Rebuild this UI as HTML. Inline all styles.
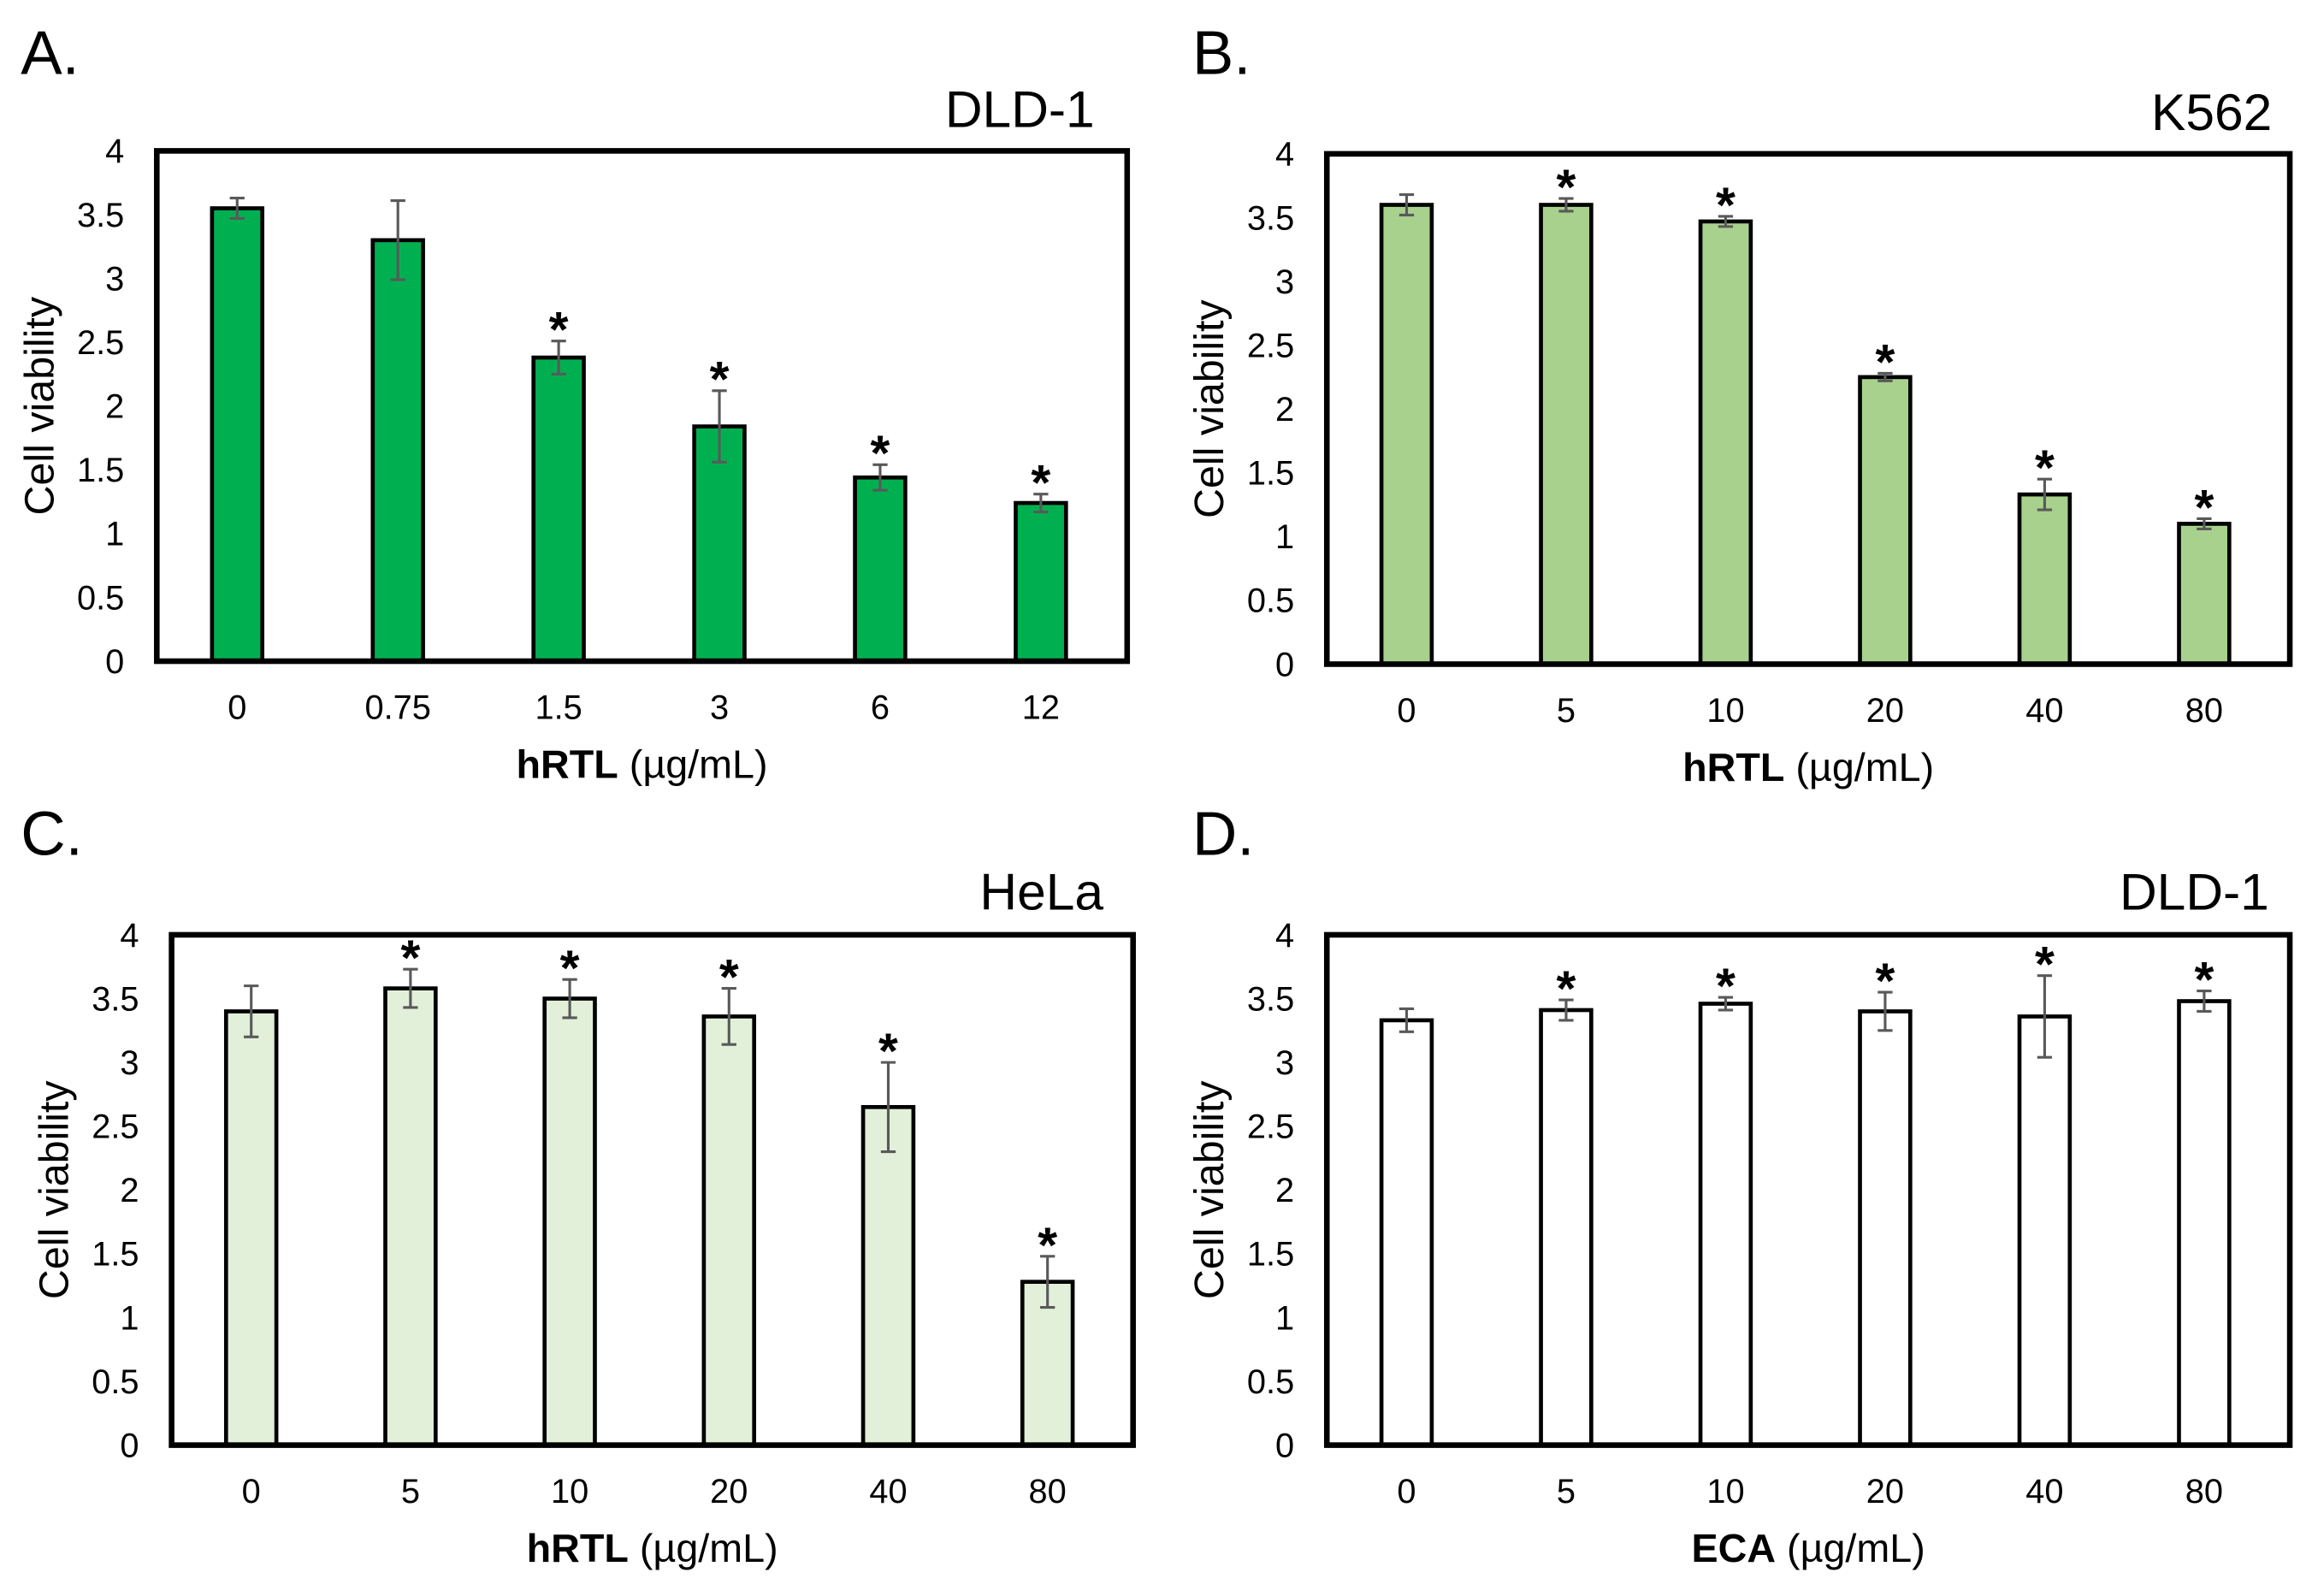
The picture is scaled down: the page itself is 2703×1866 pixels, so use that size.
<!DOCTYPE html>
<html><head><meta charset="utf-8"><style>
html,body{margin:0;padding:0;background:#fff}
svg{display:block}
text{font-family:"Liberation Sans",Arial,sans-serif;fill:#000}
.narrow{font-family:"Liberation Sans Narrow","Liberation Sans",Arial,sans-serif}
</style></head><body>
<svg id="fig" width="2703" height="1866" viewBox="0 0 1563 1079" xmlns="http://www.w3.org/2000/svg"></svg>
<script>
const yTicks = [0,0.5,1,1.5,2,2.5,3,3.5,4];
const yTickLabels = ["0","0.5","1","1.5","2","2.5","3","3.5","4"];
const catsA = ["0","0.75","1.5","3","6","12"];
const valsA = [3.55,3.3,2.38,1.84,1.44,1.24];
const errA = [0.08,0.31,0.13,0.28,0.1,0.07];
const starA = [0,0,1,1,1,1];
const catsB = ["0","5","10","20","40","80"];
const valsB = [3.6,3.6,3.47,2.25,1.33,1.1];
const errB = [0.08,0.05,0.04,0.03,0.12,0.04];
const starB = [0,1,1,1,1,1];
const catsC = ["0","5","10","20","40","80"];
const valsC = [3.4,3.58,3.5,3.36,2.65,1.28];
const errC = [0.2,0.15,0.15,0.22,0.35,0.2];
const starC = [0,1,1,1,1,1];
const catsD = ["0","5","10","20","40","80"];
const valsD = [3.33,3.41,3.46,3.4,3.36,3.48];
const errD = [0.09,0.08,0.05,0.15,0.32,0.08];
const starD = [0,1,1,1,1,1];

const NS="http://www.w3.org/2000/svg";
const svg=document.getElementById('fig');
function mk(tag,attrs,parent,txt){const e=document.createElementNS(NS,tag);for(const k in attrs)e.setAttribute(k,attrs[k]);if(txt!==undefined)e.textContent=txt;(parent||svg).appendChild(e);return e;}

function panel(p){
  const g=mk('g',{});
  
  
  const y=v=>p.bottom-(v/4)*(p.bottom-p.top);
  const step=(p.right-p.left-4)/p.cats.length;
  const x=i=>p.left+step*(i+0.5);
  const lt=mk('text',{x:p.letterX,y:p.letterY,'font-size':42,class:'narrow'},g,p.id+'.');
  
  
  const tt=mk('text',{x:p.titleX,y:p.titleY,'font-size':35,'text-anchor':'end',class:'narrow'},g,p.title);
  
  
  yTicks.forEach((v,i)=>{
    const t=mk('text',{x:p.left-22,y:y(v)+8,'font-size':23,'text-anchor':'end',class:'narrow'},g,yTickLabels[i]);
    
    
  });
  const yl=mk('text',{x:0,y:0,'font-size':28,'text-anchor':'middle',transform:`translate(${p.left-70},${(p.top+p.bottom)/2}) rotate(-90)`},g,'Cell viability');
  
  
  p.vals.forEach((v,i)=>{
    const b=mk('rect',{x:x(i)-17,y:y(v),width:34,height:p.bottom-y(v),fill:p.color,stroke:'#000','stroke-width':2.7},g);
    
    
    const e=p.errs[i];
    const eg=mk('g',{stroke:'#595959','stroke-width':1.8,fill:'none'},g);
    
    
    mk('line',{x1:x(i),x2:x(i),y1:y(v+e),y2:y(v-e)},eg);
    mk('line',{x1:x(i)-5,x2:x(i)+5,y1:y(v+e),y2:y(v+e)},eg);
    mk('line',{x1:x(i)-5,x2:x(i)+5,y1:y(v-e),y2:y(v-e)},eg);
    if(p.stars[i]){
      const s=mk('text',{x:x(i),y:y(v+e)+4,'font-size':34,'font-weight':'bold','text-anchor':'middle'},g,'*');
      
      
    }
    const xt=mk('text',{x:x(i),y:p.bottom+39,'font-size':23,'text-anchor':'middle',class:'narrow'},g,p.cats[i]);
    
    
  });
  const box=mk('rect',{x:p.left,y:p.top,width:p.right-p.left,height:p.bottom-p.top,fill:'none',stroke:'#000','stroke-width':3.8},g);
  
  
  const xl=mk('text',{x:(p.left+p.right)/2,y:p.bottom+79,'font-size':27,'text-anchor':'middle',class:'narrow'},g);
  
  
  mk('tspan',{'font-weight':'bold'},xl,p.xlab);
  mk('tspan',{},xl,' (\u00b5g/mL)');
}
panel({id:'A',title:'DLD-1',cats:catsA,vals:valsA,errs:errA,stars:starA,color:'#00b050',left:106,right:762,top:102,bottom:447,letterX:14,letterY:50,titleX:740,titleY:86,xlab:'hRTL'});
panel({id:'B',title:'K562',cats:catsB,vals:valsB,errs:errB,stars:starB,color:'#a9d18e',left:897,right:1548,top:104,bottom:449,letterX:806,letterY:50,titleX:1536,titleY:88,xlab:'hRTL'});
panel({id:'C',title:'HeLa',cats:catsC,vals:valsC,errs:errC,stars:starC,color:'#e2f0d9',left:116,right:766,top:632,bottom:977,letterX:14,letterY:578,titleX:746,titleY:615,xlab:'hRTL'});
panel({id:'D',title:'DLD-1',cats:catsD,vals:valsD,errs:errD,stars:starD,color:'#ffffff',left:897,right:1548,top:632,bottom:977,letterX:806,letterY:578,titleX:1534,titleY:615,xlab:'ECA'});
</script>
</body></html>
